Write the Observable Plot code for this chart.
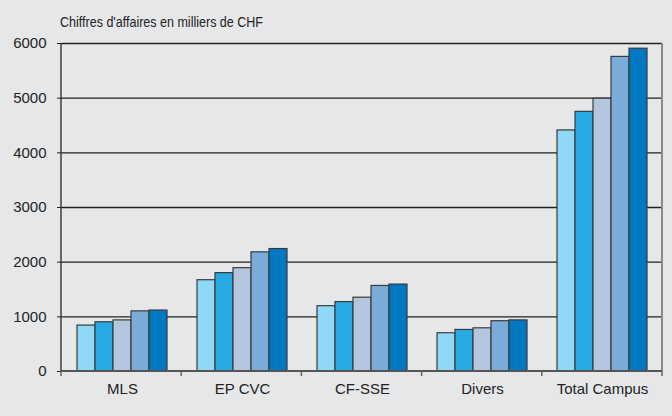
<!DOCTYPE html>
<html><head><meta charset="utf-8">
<script src="https://cdn.jsdelivr.net/npm/d3@7"></script>
<script src="https://cdn.jsdelivr.net/npm/@observablehq/plot@0.6"></script>
<style>
body{margin:0;background:#e6e7e9;}
#chart svg{display:block;}
</style></head><body><div id="chart"></div>
<script>
const categories = ["MLS", "EP CVC", "CF-SSE", "Divers", "Total Campus"];
const seriesKeys = ["1", "2", "3", "4", "5"];
const colors = ["#8fd8f6", "#26aae1", "#b4c6de", "#7bacd9", "#0079c2"];
const mls = [840, 900, 935, 1100, 1115];
const epCvc = [1670, 1800, 1890, 2180, 2240];
const cfSse = [1195, 1270, 1350, 1565, 1590];
const divers = [700, 760, 790, 920, 935];
const totalCampus = [4410, 4750, 4990, 5755, 5905];
const yTicks = [0, 1000, 2000, 3000, 4000, 5000, 6000];
const title = "Chiffres d'affaires en milliers de CHF";

const valueArrays = [mls, epCvc, cfSse, divers, totalCampus];
const data = categories.flatMap((c, i) => seriesKeys.map((s, j) => ({category: c, series: s, value: valueArrays[i][j]})));

const font = "'Liberation Sans', Arial, sans-serif";

const chart = Plot.plot({
  width: 672, height: 416,
  marginLeft: 61, marginRight: 10, marginTop: 43, marginBottom: 45,
  style: {background: "#e6e7e9", fontFamily: font, fontSize: "15px", color: "#222"},
  fx: {domain: categories, padding: 0, label: null, tickSize: 0, tickPadding: 12, axis: "bottom"},
  x: {domain: seriesKeys, paddingInner: 0, paddingOuter: 0.75, axis: null},
  y: {domain: [0, 6000], ticks: yTicks, tickSize: 5, tickPadding: 11, label: null, tickFormat: d3.format("d")},
  color: {domain: seriesKeys, range: colors},
  marks: [
    Plot.ruleY(yTicks.slice(1), {stroke: "#222", strokeWidth: 1.3}),
    Plot.barY(data, {fx: "category", x: "series", y: "value", fill: "series", stroke: "#3a3a3a", strokeWidth: 1.2})
  ]
});
document.getElementById("chart").appendChild(chart);

// axis lines and category boundary ticks, from the chart's own scales
const fxs = chart.scale("fx");
const ys = chart.scale("y");
const fx = d3.scaleBand().domain(fxs.domain).range(fxs.range).padding(0);
const y = d3.scaleLinear().domain(ys.domain).range(ys.range);
const svg = d3.select(chart);
const g = svg.append("g");
const x0 = fx.range()[0], x1 = fx.range()[1];
const yTop = y(d3.max(yTicks)), yBot = y(0);
g.append("line").attr("x1", x1).attr("x2", x1).attr("y1", yTop).attr("y2", yBot).attr("stroke", "#8a8a8a").attr("stroke-width", 2);
g.append("line").attr("x1", x0).attr("x2", x1).attr("y1", yBot).attr("y2", yBot).attr("stroke", "#555").attr("stroke-width", 2);
g.append("line").attr("x1", x0).attr("x2", x0).attr("y1", yTop).attr("y2", yBot).attr("stroke", "#222").attr("stroke-width", 1.3);
const bounds = categories.map(c => fx(c)).concat([x1]);
g.selectAll("line.b").data(bounds).join("line").attr("class", "b")
  .attr("x1", d => d).attr("x2", d => d).attr("y1", yBot).attr("y2", yBot + 5)
  .attr("stroke", "#666").attr("stroke-width", 1.5);
svg.append("text").attr("x", x0 - 1).attr("y", 27).attr("fill", "#222")
  .attr("text-anchor", "start")
  .attr("textLength", 203).attr("lengthAdjust", "spacingAndGlyphs")
  .style("font-family", font).style("font-size", "15px").text(title);
</script></body></html>
